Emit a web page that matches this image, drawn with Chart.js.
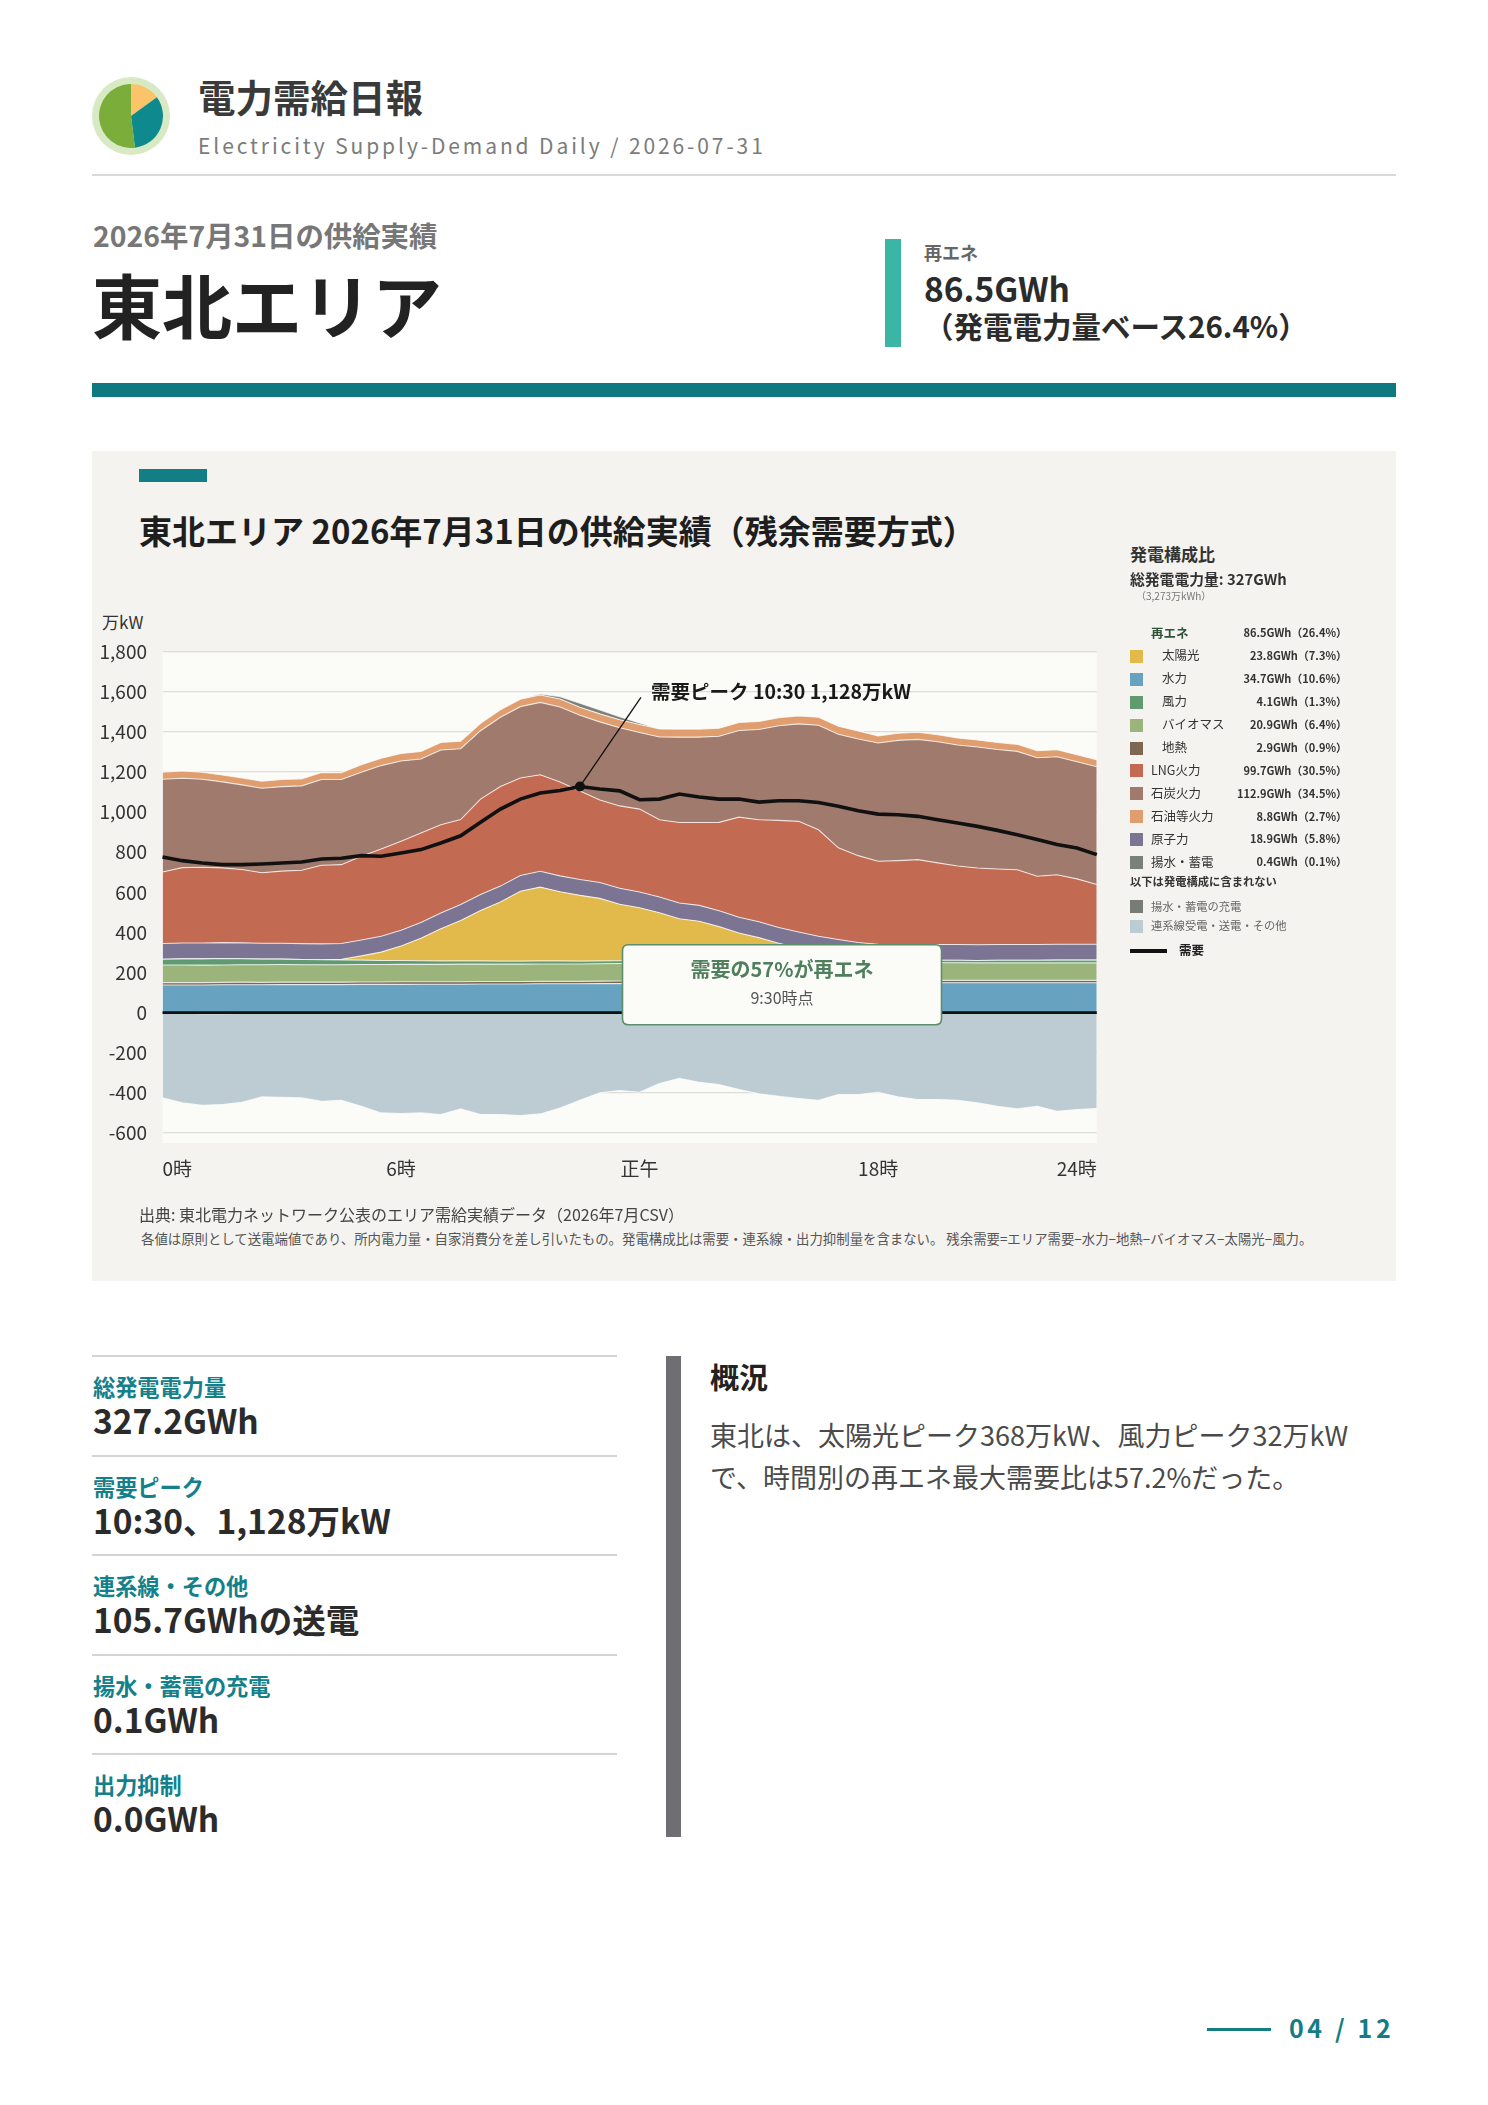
<!DOCTYPE html>
<html lang="ja">
<head>
<meta charset="utf-8">
<title>電力需給日報 東北エリア</title>
<script src="https://cdn.jsdelivr.net/npm/chart.js@4.4.1/dist/chart.umd.min.js"></script>
<style>
html,body{margin:0;padding:0;background:#fff;}
body{font-family:"Noto Sans CJK JP","Noto Sans",sans-serif;color:#222;}
#page{position:relative;width:1488px;height:2105px;overflow:hidden;background:#fff;}
.t{position:absolute;white-space:nowrap;line-height:1;}
.b{font-weight:700;}
.sw{position:absolute;width:13px;height:13px;}
.lv{position:absolute;white-space:nowrap;line-height:1;font-weight:700;font-size:11px;color:#333;text-align:right;right:141px;}
</style>
</head>
<body>
<div id="page">
  <!-- header -->
  <div style="position:absolute;left:92px;top:77px;width:78px;height:78px;border-radius:50%;background:#d8eac4;"></div>
  <canvas id="logo" width="64" height="64" style="position:absolute;left:99px;top:84px;width:64px;height:64px;"></canvas>
  <div class="t b" style="left:198px;top:77px;font-size:37.5px;color:#3a3a3a;">電力需給日報</div>
  <div class="t" style="left:198px;top:135px;font-size:21px;color:#7b7b7b;letter-spacing:2.9px;">Electricity Supply-Demand Daily / 2026-07-31</div>
  <div style="position:absolute;left:92px;top:174px;width:1304px;height:2px;background:#d9d9d9;"></div>

  <div class="t b" style="left:93px;top:221px;font-size:28.4px;color:#777;">2026年7月31日の供給実績</div>
  <div class="t b" style="left:92px;top:269px;font-size:70px;color:#222;">東北エリア</div>

  <div style="position:absolute;left:885px;top:239px;width:16px;height:108px;background:#3bb6a6;"></div>
  <div class="t b" style="left:924px;top:243px;font-size:18px;color:#666;">再エネ</div>
  <div class="t b" style="left:924px;top:271px;font-size:33.5px;color:#2b2b2b;">86.5GWh</div>
  <div class="t b" style="left:924px;top:311px;font-size:29.5px;color:#2b2b2b;">（発電電力量ベース26.4%）</div>

  <div style="position:absolute;left:92px;top:383px;width:1304px;height:14px;background:#0e7a80;"></div>

  <!-- chart panel -->
  <div style="position:absolute;left:92px;top:451px;width:1304px;height:830px;background:#f4f3f0;"></div>
  <div style="position:absolute;left:139px;top:469px;width:68px;height:13px;background:#137e86;"></div>
  <div class="t b" style="left:139px;top:514px;font-size:33px;color:#1e1e1e;">東北エリア 2026年7月31日の供給実績（残余需要方式）</div>
  <div class="t" style="left:102px;top:613px;font-size:17px;color:#333;">万kW</div>

  <canvas id="chart" width="1040" height="620" style="position:absolute;left:92px;top:600px;width:1040px;height:620px;"></canvas>

  <!-- legend -->
  <div class="t b" style="left:1130px;top:545px;font-size:17px;color:#333;">発電構成比</div>
  <div class="t b" style="left:1130px;top:572px;font-size:14.8px;color:#333;">総発電電力量: 327GWh</div>
  <div class="t" style="left:1136px;top:591px;font-size:10px;color:#777;">（3,273万kWh）</div>
  <div id="legend"></div>

  <div class="t" style="left:139px;top:1206px;font-size:16px;color:#444;">出典: 東北電力ネットワーク公表のエリア需給実績データ（2026年7月CSV）</div>
  <div class="t" style="left:141px;top:1231.5px;font-size:13.4px;color:#555;">各値は原則として送電端値であり、所内電力量・自家消費分を差し引いたもの。発電構成比は需要・連系線・出力抑制量を含まない。 残余需要=エリア需要−水力−地熱−バイオマス−太陽光−風力。</div>

  <!-- KPI list -->
  <div id="kpis"></div>

  <!-- summary -->
  <div style="position:absolute;left:666px;top:1356px;width:15px;height:481px;background:#6f6f73;"></div>
  <div class="t b" style="left:710px;top:1362px;font-size:29px;color:#222;">概況</div>
  <div class="t" style="left:710px;top:1421px;font-size:27px;color:#4a4a4a;">東北は、太陽光ピーク368万kW、風力ピーク32万kW</div>
  <div class="t" style="left:710px;top:1463px;font-size:27px;color:#4a4a4a;">で、時間別の再エネ最大需要比は57.2%だった。</div>

  <!-- footer -->
  <div style="position:absolute;left:1207px;top:2028px;width:64px;height:3px;background:#137d85;"></div>
  <div class="t b" style="left:1289px;top:2015px;font-size:25px;color:#137d85;letter-spacing:3.6px;">04 / 12</div>
</div>

<script>
// ---------- data ----------
const timeLabels = ["0:00","0:30","1:00","1:30","2:00","2:30","3:00","3:30","4:00","4:30","5:00","5:30",
  "6:00","6:30","7:00","7:30","8:00","8:30","9:00","9:30","10:00","10:30","11:00","11:30",
  "12:00","12:30","13:00","13:30","14:00","14:30","15:00","15:30","16:00","16:30","17:00","17:30",
  "18:00","18:30","19:00","19:30","20:00","20:30","21:00","21:30","22:00","22:30","23:00","23:30"];
const axisTickLabels = {0:"0時",12:"6時",24:"正午",36:"18時",47:"24時"};
const yTickValues = [-600,-400,-200,0,200,400,600,800,1000,1200,1400,1600,1800];

// 万kW, 30-minute values
const hydro = [138,138,138,139,139,139,140,140,140,140,141,141,141,142,142,142,
  143,143,143,144,144,144,145,145,146,146,147,147,148,148,149,149,
  149,149,149,149,149,149,149,149,149,149,149,149,149,149,149,149];
const geothermal = [12,12,12,12,13,12,12,12,12,12,12,12,13,12,12,12,12,12,12,12,12,12,12,13,
  12,12,12,12,12,12,12,12,12,12,13,12,12,12,12,12,12,12,12,12,12,12,12,12];
const biomass = [88,88,87,87,87,88,88,87,87,87,87,87,87,87,87,88,87,87,87,87,87,87,87,87,
  87,87,86,86,87,87,87,87,87,87,87,87,87,87,87,88,88,87,87,87,87,87,87,87];
const wind = [28,30,31,32,30,28,27,26,25,24,22,20,19,18,17,16,16,15,15,15,15,14,14,14,
  13,13,13,13,12,12,12,12,12,11,11,11,11,12,12,12,12,12,13,13,13,14,14,14];
const solar = [0,0,0,0,0,0,0,0,0,3,21,42,72,112,160,202,252,295,348,368,345,328,312,282,
  265,240,210,198,170,138,114,86,63,43,26,12,3,0,0,0,0,0,0,0,0,0,0,0];
const nuclear = [79,79,79,79,79,79,79,79,79,79,79,79,79,79,79,79,79,79,79,79,79,79,79,79,
  79,79,79,79,79,79,79,79,79,79,79,79,79,79,79,79,79,79,79,79,79,79,79,79];
const lng = [356,376,378,373,366,352,360,366,392,393,418,435,444,446,440,424,476,497,486,481,
  468,441,411,411,413,385,401,413,441,499,509,534,552,531,457,433,414,419,424,407,
  391,382,376,373,340,347,326,298];
const coal = [463,446,439,429,422,421,421,421,428,425,419,416,400,369,373,353,341,345,356,361,
  374,378,390,390,382,413,426,426,429,432,450,472,486,521,566,582,590,600,600,604,
  604,604,596,590,591,588,584,587];
const oil = [35,36,35,34,35,35,36,35,35,34,37,37,37,37,37,37,37,37,37,37,40,40,40,40,
  40,40,40,40,40,40,40,40,40,40,40,40,35,35,35,35,35,35,35,35,35,35,35,35];
const pumpedGen = [0,0,0,0,0,0,0,0,0,0,0,0,0,0,0,0,0,0,0,5,12,20,20,15,
  8,0,0,0,0,0,0,0,0,0,0,0,0,0,0,0,0,0,0,0,0,0,0,0];
const pumpedCharge = [0,-3,-5,-5,-4,-3,0,0,0,0,0,0,0,0,0,0,0,0,0,0,0,0,0,0,
  0,0,0,0,0,0,0,0,0,0,0,0,0,0,0,0,0,0,0,0,0,0,0,0];
const interconnect = [-425,-447,-457,-453,-443,-417,-422,-425,-442,-437,-467,-500,-503,-500,-508,-480,
  -508,-508,-513,-505,-475,-437,-400,-388,-397,-353,-328,-347,-358,-383,-405,-417,
  -428,-437,-408,-408,-397,-420,-433,-433,-437,-450,-467,-480,-467,-492,-483,-478];
const demand = [776,758,746,738,738,741,746,751,766,770,783,780,796,813,846,882,949,1015,1065,1095,
  1108,1128,1115,1106,1062,1065,1090,1075,1065,1065,1050,1057,1057,1048,1029,1007,990,987,979,962,
  946,929,909,887,863,838,821,788];

// legend table (GWh, %)
const legendRows = [
  {name:"再エネ", val:"86.5GWh（26.4%）", head:true},
  {name:"太陽光", val:"23.8GWh（7.3%）", color:"#e2b94b", sub:true},
  {name:"水力", val:"34.7GWh（10.6%）", color:"#68a2c1", sub:true},
  {name:"風力", val:"4.1GWh（1.3%）", color:"#5f9a70", sub:true},
  {name:"バイオマス", val:"20.9GWh（6.4%）", color:"#9bb47c", sub:true},
  {name:"地熱", val:"2.9GWh（0.9%）", color:"#7e6752", sub:true},
  {name:"LNG火力", val:"99.7GWh（30.5%）", color:"#c26a52"},
  {name:"石炭火力", val:"112.9GWh（34.5%）", color:"#a07b6d"},
  {name:"石油等火力", val:"8.8GWh（2.7%）", color:"#e09e6f"},
  {name:"原子力", val:"18.9GWh（5.8%）", color:"#7b7593"},
  {name:"揚水・蓄電", val:"0.4GWh（0.1%）", color:"#7c807a"}
];
const kpiLabels = ["総発電電力量","需要ピーク","連系線・その他","揚水・蓄電の充電","出力抑制"];
const kpiValues = ["327.2GWh","10:30、1,128万kW","105.7GWhの送電","0.1GWh","0.0GWh"];
const logoShares = [15,33,52];

// ---------- HTML legend / KPIs ----------
(function(){
  const lg = document.getElementById('legend');
  let html = '';
  const rowY0 = 633.5, step = 22.9;
  legendRows.forEach((r,i)=>{
    const cy = rowY0 + step*i;
    if (r.color) html += `<div class="sw" style="left:1130px;top:${cy-6.5}px;background:${r.color};"></div>`;
    const left = r.sub ? 1162 : 1151;
    const style = r.head ? 'font-weight:700;color:#2d5238;' : 'color:#333;';
    html += `<div class="t" style="left:${left}px;top:${cy-7}px;font-size:12.5px;${style}">${r.name}</div>`;
    html += `<div class="lv" style="top:${cy-6.2}px;">${r.val}</div>`;
  });
  html += `<div class="t b" style="left:1130px;top:875.5px;font-size:11.3px;color:#333;">以下は発電構成に含まれない</div>`;
  html += `<div class="sw" style="left:1130px;top:900px;background:#787c76;"></div>`;
  html += `<div class="t" style="left:1151px;top:900.5px;font-size:11.3px;color:#666;">揚水・蓄電の充電</div>`;
  html += `<div class="sw" style="left:1130px;top:920px;background:#bdccd2;"></div>`;
  html += `<div class="t" style="left:1151px;top:920px;font-size:11.3px;color:#666;">連系線受電・送電・その他</div>`;
  html += `<div style="position:absolute;left:1130px;top:949px;width:37px;height:3.5px;background:#111;"></div>`;
  html += `<div class="t b" style="left:1179px;top:944px;font-size:12.5px;color:#222;">需要</div>`;
  lg.innerHTML = html;

  const kp = document.getElementById('kpis');
  let k = '';
  const lineYs = [1356,1456,1555,1655,1754];
  kpiLabels.forEach((lab,i)=>{
    const ly = lineYs[i];
    k += `<div style="position:absolute;left:92px;top:${ly-1}px;width:525px;height:2px;background:#d4d4d4;"></div>`;
    k += `<div class="t b" style="left:93px;top:${ly+31-12.4}px;font-size:22.2px;color:#13808a;">${lab}</div>`;
    k += `<div class="t b" style="left:93px;top:${ly+65.5-18.8}px;font-size:33.5px;color:#2b2b2b;">${kpiValues[i]}</div>`;
  });
  kp.innerHTML = k;
})();

// ---------- charts ----------
Chart.defaults.font.family = '"Noto Sans CJK JP","Noto Sans",sans-serif';
Chart.defaults.animation = false;

new Chart(document.getElementById('logo'), {
  type: 'pie',
  data: { labels: ['a','b','c'], datasets: [{ data: logoShares, backgroundColor: ['#fbc46a','#0e8a8f','#7aad3a'], borderWidth: 0 }] },
  options: { responsive:false, animation:false, events:[], plugins:{legend:{display:false}, tooltip:{enabled:false}}, layout:{padding:0} }
});

const peakIndex = demand.indexOf(Math.max(...demand));
const peakLabel = '需要ピーク 10:30 1,128万kW';
const calloutTitle = '需要の57%が再エネ';
const calloutSub = '9:30時点';

const overlay = {
  id: 'overlay',
  beforeDraw(chart) {
    const {ctx, chartArea:a} = chart;
    ctx.save();
    ctx.fillStyle = '#fbfbf8';
    ctx.fillRect(a.left, a.top, a.right - a.left, a.bottom - a.top);
    ctx.restore();
  },
  afterDatasetsDraw(chart) {
    const {ctx, chartArea:a, scales:{x, y}} = chart;
    ctx.save();
    const y0 = y.getPixelForValue(0);
    ctx.strokeStyle = '#111'; ctx.lineWidth = 2.6;
    ctx.beginPath(); ctx.moveTo(a.left, y0); ctx.lineTo(a.right, y0); ctx.stroke();

    // peak annotation
    const px = x.getPixelForValue(peakIndex), py = y.getPixelForValue(demand[peakIndex]);
    ctx.lineWidth = 1.3; ctx.strokeStyle = '#111';
    ctx.beginPath(); ctx.moveTo(px, py); ctx.lineTo(px + 61, py - 89); ctx.stroke();
    ctx.fillStyle = '#1a1a1a';
    ctx.font = 'bold 19.5px "Noto Sans CJK JP"';
    ctx.textBaseline = 'middle'; ctx.textAlign = 'left';
    ctx.fillText(peakLabel, px + 71, py - 95);

    // callout box
    const bx = a.left + 460, by = a.top + 293, bw = 319, bh = 80, r = 6;
    ctx.beginPath();
    ctx.moveTo(bx + r, by); ctx.lineTo(bx + bw - r, by); ctx.quadraticCurveTo(bx + bw, by, bx + bw, by + r);
    ctx.lineTo(bx + bw, by + bh - r); ctx.quadraticCurveTo(bx + bw, by + bh, bx + bw - r, by + bh);
    ctx.lineTo(bx + r, by + bh); ctx.quadraticCurveTo(bx, by + bh, bx, by + bh - r);
    ctx.lineTo(bx, by + r); ctx.quadraticCurveTo(bx, by, bx + r, by);
    ctx.closePath();
    ctx.fillStyle = '#fbfbf8'; ctx.fill();
    ctx.strokeStyle = '#5d8e6b'; ctx.lineWidth = 1.6; ctx.stroke();
    ctx.textAlign = 'center';
    ctx.fillStyle = '#4f7f5c';
    ctx.font = 'bold 20px "Noto Sans CJK JP"';
    ctx.fillText(calloutTitle, bx + bw / 2, by + 25);
    ctx.fillStyle = '#555';
    ctx.font = '16px "Noto Sans CJK JP"';
    ctx.fillText(calloutSub, bx + bw / 2, by + 53);
    ctx.restore();
  }
};

const edge = 'rgba(255,255,255,0.75)';
function area(label, data, color, fill, stack) {
  return { label, data, backgroundColor: color, borderColor: edge, borderWidth: 1.1,
    fill, stack, pointRadius: 0, tension: 0 };
}

new Chart(document.getElementById('chart'), {
  type: 'line',
  data: {
    labels: timeLabels,
    datasets: [
      area('水力', hydro, '#68a2c1', 'origin', 'pos'),
      area('地熱', geothermal, '#7e6752', '-1', 'pos'),
      area('バイオマス', biomass, '#9bb47c', '-1', 'pos'),
      area('風力', wind, '#5f9a70', '-1', 'pos'),
      area('太陽光', solar, '#e2b94b', '-1', 'pos'),
      area('原子力', nuclear, '#7b7593', '-1', 'pos'),
      area('LNG火力', lng, '#c26a52', '-1', 'pos'),
      area('石炭火力', coal, '#a07b6d', '-1', 'pos'),
      area('石油等火力', oil, '#e09e6f', '-1', 'pos'),
      area('揚水・蓄電', pumpedGen, '#7c807a', '-1', 'pos'),
      area('揚水・蓄電の充電', pumpedCharge, '#787c76', 'origin', 'neg'),
      area('連系線受電・送電・その他', interconnect, '#bdccd2', '-1', 'neg'),
      { label: '需要', data: demand, stack: 'dem', fill: false, borderColor: '#111', borderWidth: 3.6,
        tension: 0, order: -1,
        pointRadius: (c) => c.dataIndex === peakIndex ? 5 : 0,
        pointBackgroundColor: '#111', pointBorderColor: '#111', pointBorderWidth: 0 }
    ]
  },
  options: {
    responsive: false,
    animation: false,
    events: [],
    layout: { padding: { left: 0, right: 35.2, top: 51.7, bottom: 0 } },
    plugins: { legend: { display: false }, tooltip: { enabled: false } },
    scales: {
      x: {
        type: 'category',
        offset: false,
        grid: { display: false, drawTicks: false },
        border: { display: false },
        ticks: {
          autoSkip: false, maxRotation: 0, minRotation: 0, align: 'inner', padding: 14,
          color: '#333', font: { size: 19 },
          callback: (v, i) => axisTickLabels[i] !== undefined ? axisTickLabels[i] : ''
        },
        afterFit: (s) => { s.height = 77; }
      },
      y: {
        stacked: true,
        min: -650, max: 1800,
        grid: { color: '#dcdcd8', lineWidth: 1.2, drawTicks: false },
        border: { display: false },
        afterBuildTicks: (s) => { s.ticks = yTickValues.map(v => ({ value: v })); },
        ticks: {
          padding: 15.5, color: '#333', font: { size: 19 },
          callback: (v) => Number(v).toLocaleString('en-US')
        },
        afterFit: (s) => { s.width = 70.5; }
      }
    }
  },
  plugins: [overlay]
});
</script>
</body>
</html>
